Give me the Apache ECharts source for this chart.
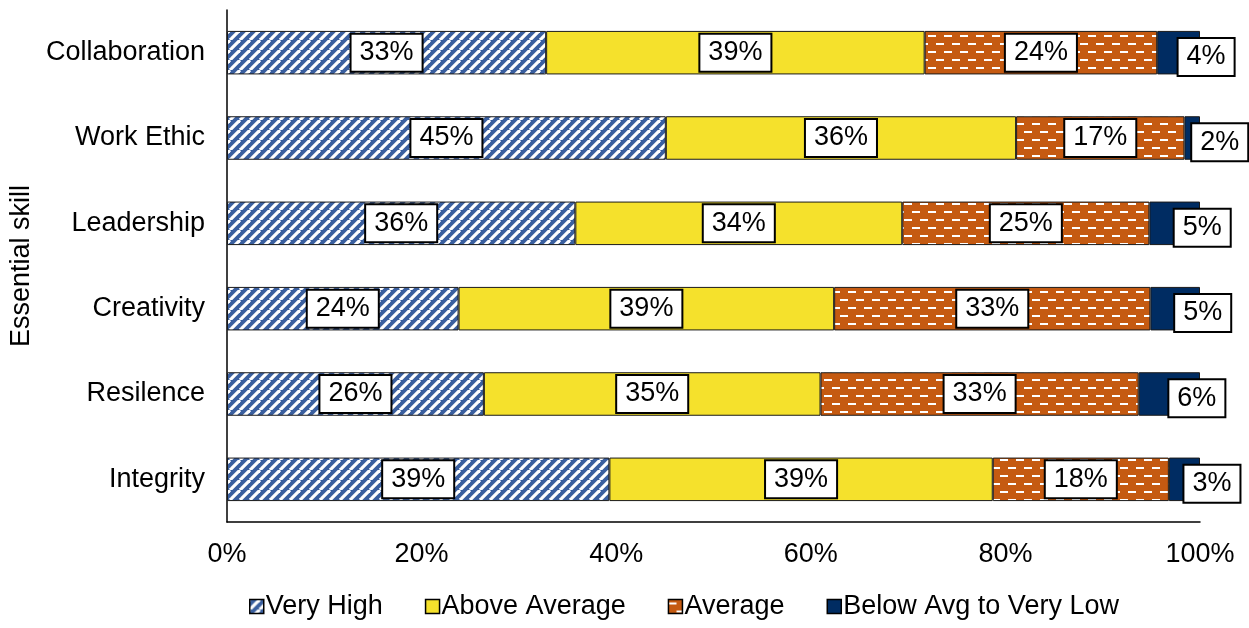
<!DOCTYPE html>
<html>
<head>
<meta charset="utf-8">
<script src="https://cdn.jsdelivr.net/npm/echarts@6/dist/echarts.min.js"></script>
<style>
  html, body { margin: 0; padding: 0; background: #fff; }
  #chart { width: 1249px; height: 628px; }
</style>
</head>
<body>
<div id="chart"></div>
<script>
// Ratings of essential skills (percent of respondents)
const categories = ['Collaboration', 'Work Ethic', 'Leadership', 'Creativity', 'Resilence', 'Integrity'];
const seriesNames = ['Very High', 'Above Average', 'Average', 'Below Avg to Very Low'];
const veryHigh = [32.8, 45.1, 35.8, 23.8, 26.4, 39.3];
const aboveAverage = [38.9, 36.0, 33.6, 38.6, 34.6, 39.4];
const average = [23.9, 17.3, 25.4, 32.5, 32.7, 18.1];
const belowAvg = [4.4, 1.6, 5.2, 5.1, 6.3, 3.2];
const xTicks = [0, 20, 40, 60, 80, 100];

const FONT = '"Liberation Sans", Arial, sans-serif';
const FS = 27;

// Diagonal white stripes on blue
function stripePattern() {
  const s = 10;
  const c = document.createElement('canvas');
  c.width = s; c.height = s;
  const g = c.getContext('2d');
  g.fillStyle = '#3a5f9f';
  g.fillRect(0, 0, s, s);
  g.strokeStyle = '#ffffff';
  g.lineWidth = 3.2;
  for (const k of [-s, 0, s]) {
    g.beginPath();
    g.moveTo(k, s);
    g.lineTo(k + s, 0);
    g.stroke();
  }
  return c;
}

// Staggered white dashes on orange
function dashPattern() {
  const c = document.createElement('canvas');
  c.width = 16; c.height = 16;
  const g = c.getContext('2d');
  g.fillStyle = '#c55a11';
  g.fillRect(0, 0, 16, 16);
  g.fillStyle = '#ffffff';
  g.fillRect(0, 3, 8, 2);
  g.fillRect(8, 11, 8, 2);
  return c;
}

const fills = [
  { image: stripePattern(), repeat: 'repeat' },
  '#f5e12c',
  { image: dashPattern(), repeat: 'repeat' },
  '#002c62'
];
const values = [veryHigh, aboveAverage, average, belowAvg];

const boxLabel = {
  show: true,
  formatter: p => Math.round(p.value) + '%',
  color: '#000',
  fontFamily: FONT,
  fontSize: FS,
  lineHeight: 29,
  backgroundColor: '#fff',
  borderColor: '#000',
  borderWidth: 2,
  padding: [4, 8, 3, 8]
};

const series = seriesNames.map((name, i) => {
  const last = i === seriesNames.length - 1;
  return {
    name: name,
    type: 'bar',
    stack: 'total',
    barWidth: '51%',
    data: values[i],
    itemStyle: { color: fills[i], borderColor: '#1a1a1a', borderWidth: 1 },
    label: last
      ? Object.assign({}, boxLabel, { position: ['50%', '60%'], align: 'left', verticalAlign: 'middle' })
      : Object.assign({}, boxLabel, { position: 'inside' }),
    labelLayout: { hideOverlap: false },
    emphasis: { disabled: true },
    animation: false
  };
});

const chart = echarts.init(document.getElementById('chart'), null, { renderer: 'canvas' });
chart.setOption({
  backgroundColor: '#fff',
  animation: false,
  grid: { left: 225, right: 49, top: 10, bottom: 106, containLabel: false },
  legend: {
    bottom: 3,
    left: 244,
    icon: 'rect',
    itemWidth: 14,
    itemHeight: 14,
    itemGap: 42,
    textStyle: { fontFamily: FONT, fontSize: FS, color: '#000', padding: [0, 0, 0, -3] },
    itemStyle: { borderColor: '#000', borderWidth: 1.5 },
    data: seriesNames
  },
  xAxis: {
    type: 'value',
    min: 0,
    max: 100,
    interval: 20,
    axisLine: { show: true, lineStyle: { color: '#000', width: 1.5 } },
    axisTick: { show: false },
    splitLine: { show: false },
    axisLabel: {
      formatter: v => xTicks.includes(v) ? v + '%' : '',
      fontFamily: FONT, fontSize: FS, color: '#000', margin: 19
    }
  },
  yAxis: {
    type: 'category',
    inverse: true,
    data: categories,
    name: 'Essential skill',
    nameLocation: 'middle',
    nameGap: 183,
    nameTextStyle: { fontFamily: FONT, fontSize: FS, color: '#000' },
    axisLine: { show: true, lineStyle: { color: '#000', width: 1.5 } },
    axisTick: { show: false },
    axisLabel: { fontFamily: FONT, fontSize: FS, color: '#000', margin: 22, padding: [5, 0, 0, 0] }
  },
  series: series
});
</script>
</body>
</html>
